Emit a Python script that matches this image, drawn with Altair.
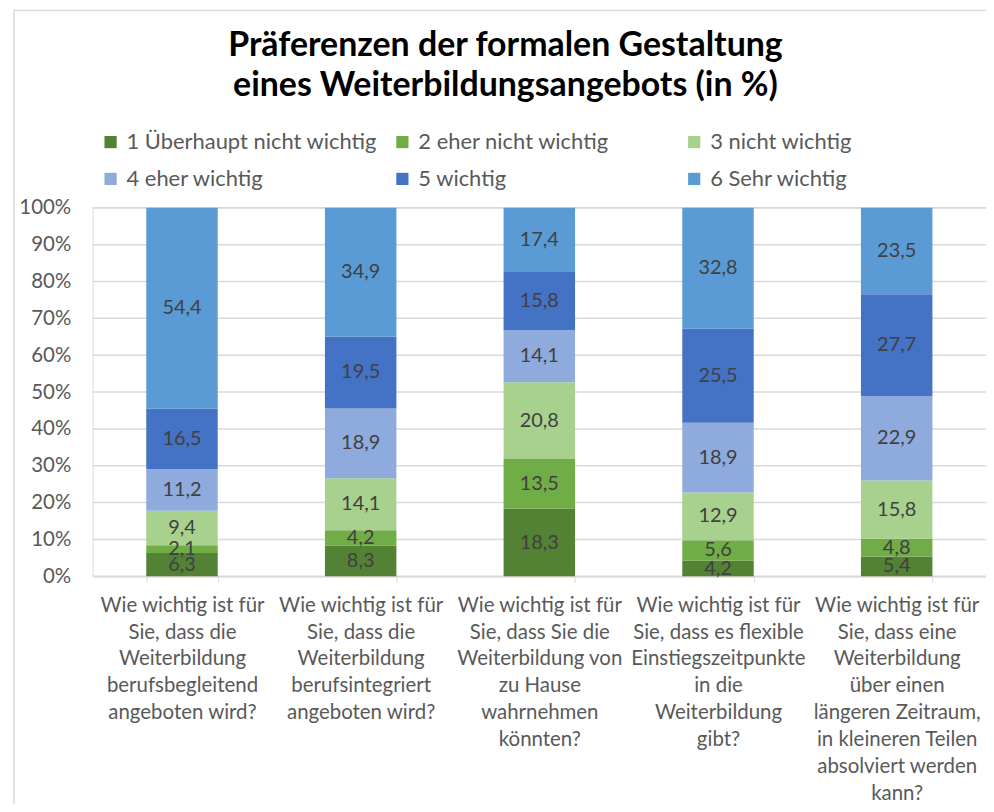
import altair as alt
import pandas as pd

categories = [
    "Wie wichtig ist für|Sie, dass die|Weiterbildung|berufsbegleitend|angeboten wird?",
    "Wie wichtig ist für|Sie, dass die|Weiterbildung|berufsintegriert|angeboten wird?",
    "Wie wichtig ist für|Sie, dass Sie die|Weiterbildung von|zu Hause|wahrnehmen|könnten?",
    "Wie wichtig ist für|Sie, dass es flexible|Einstiegszeitpunkte|in die|Weiterbildung|gibt?",
    "Wie wichtig ist für|Sie, dass eine|Weiterbildung|über einen|längeren Zeitraum,|in kleineren Teilen|absolviert werden|kann?",
]
levels = ["1 Überhaupt nicht wichtig", "2 eher nicht wichtig", "3 nicht wichtig",
          "4 eher wichtig", "5 wichtig", "6 Sehr wichtig"]
colors = ["#548235", "#70AD47", "#A9D18E", "#8FAADC", "#4472C4", "#5B9BD5"]
y_ticks = [0.0, 0.1, 0.2, 0.3, 0.4, 0.5, 0.6, 0.7, 0.8, 0.9, 1.0]

s1 = [6.3, 8.3, 18.3, 4.2, 5.4]
s2 = [2.1, 4.2, 13.5, 5.6, 4.8]
s3 = [9.4, 14.1, 20.8, 12.9, 15.8]
s4 = [11.2, 18.9, 14.1, 18.9, 22.9]
s5 = [16.5, 19.5, 15.8, 25.5, 27.7]
s6 = [54.4, 34.9, 17.4, 32.8, 23.5]
series = [s1, s2, s3, s4, s5, s6]

rows = []
for li, (lev, vals) in enumerate(zip(levels, series)):
    for ci, cat in enumerate(categories):
        rows.append({"cat": cat, "level": lev, "order": li, "value": vals[ci],
                     "label": f"{vals[ci]:.1f}".replace(".", ",")})
df = pd.DataFrame(rows)
grid_df = pd.DataFrame({"tick": y_ticks})

W, H = 897, 370
FONT = "Lato"
GRAY = "#D9D9D9"

x_axis = alt.Axis(labelExpr="split(datum.label, '|')", labelAngle=0,
                  labelFontSize=20.5, labelColor="#595959", labelLineHeight=27,
                  labelLimit=400, labelPadding=13, labelBaseline="top",
                  tickBand="extent", tickSize=6, tickColor=GRAY,
                  domainColor=GRAY, domainWidth=1.5, labelFont=FONT,
                  grid=False)
y_axis = alt.Axis(format="%", values=y_ticks, labelOverlap=False,
                  labelFontSize=20.5, labelColor="#595959", labelFont=FONT,
                  labelPadding=22, ticks=False, domain=False, grid=False)
x_enc = alt.X("cat:N", sort=categories, title=None,
              scale=alt.Scale(paddingInner=0.6, paddingOuter=0.3), axis=x_axis)
y_scale = alt.Scale(domain=[0, 1])

grid = alt.Chart(grid_df).mark_rule(color=GRAY, strokeWidth=1.5).encode(
    y=alt.Y("tick:Q", scale=y_scale, axis=y_axis, title=None),
    x=alt.value(0), x2=alt.value(W),
)

base = alt.Chart(df)

bars = base.mark_bar().encode(
    x=x_enc,
    y=alt.Y("value:Q", stack="normalize", title=None, scale=y_scale, axis=y_axis),
    color=alt.Color("level:N", sort=levels,
                    scale=alt.Scale(domain=levels, range=colors),
                    legend=alt.Legend(title=None, orient="none", legendX=7, legendY=-77,
                                      direction="horizontal",
                                      columns=3, columnPadding=14, rowPadding=15,
                                      symbolType="square", symbolSize=150,
                                      symbolStrokeWidth=0, labelFontSize=22,
                                      labelColor="#595959", labelFont=FONT,
                                      labelLimit=400,
                                      gridAlign="all", labelOffset=5)),
    order=alt.Order("order:Q"),
)

text = base.transform_joinaggregate(
    total="sum(value)", groupby=["cat"]
).transform_window(
    cum="sum(value)", groupby=["cat"], sort=[alt.SortField("order")],
    frame=[None, 0]
).transform_calculate(
    mid="(datum.cum - datum.value / 2) / datum.total"
).mark_text(fontSize=20, color="#404040", font=FONT, baseline="middle").encode(
    x=x_enc,
    y=alt.Y("mid:Q", title=None, scale=y_scale, axis=y_axis),
    text="label:N",
)

frame = alt.Chart(pd.DataFrame({"k": [0]})).mark_rect(
    fill=None, stroke=GRAY, strokeWidth=1.5
).encode(
    x=alt.value(-79), x2=alt.value(W + 30),
    y=alt.value(-198), y2=alt.value(H + 260),
)

chart = alt.layer(frame, grid, bars, text).properties(
    width=W, height=H,
    title=alt.TitleParams(
        ["Präferenzen der formalen Gestaltung", "eines Weiterbildungsangebots (in %)"],
        fontSize=34, font=FONT, fontWeight="bold", color="#000000",
        anchor="middle", dx=-34, offset=-93, lineHeight=40,
    ),
    autosize=alt.AutoSizeParams(type="none"),
    padding={"left": 85, "top": 199, "right": 0, "bottom": 227},
).configure_view(stroke=None).configure(background="white")

chart.save("out.html", embed_options={"renderer": "svg", "actions": False})
